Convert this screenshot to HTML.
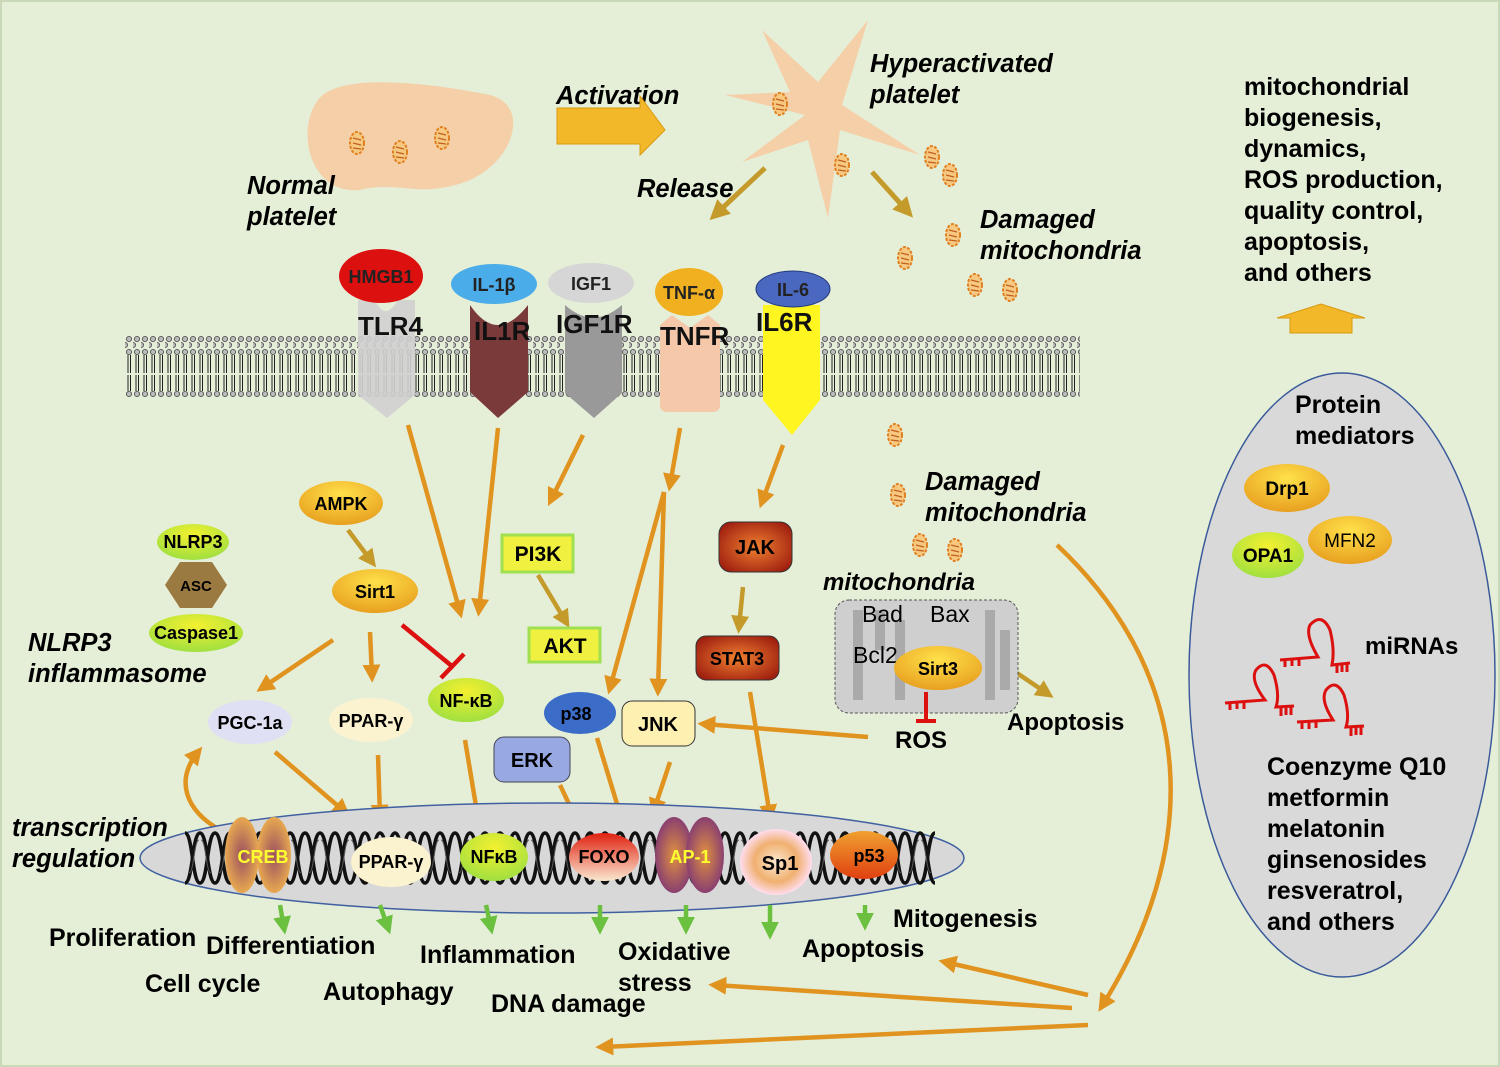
<!DOCTYPE html>
<html><head><meta charset="utf-8"><style>
html,body{margin:0;padding:0;background:#e5efd8;}
svg{display:block;font-family:"Liberation Sans",sans-serif;font-weight:bold;}
.it{font-style:italic;}
</style></head><body>
<svg width="1500" height="1067" viewBox="0 0 1500 1067" xmlns="http://www.w3.org/2000/svg">
<defs>
<marker id="ao" markerWidth="4" markerHeight="4" refX="2.5" refY="2" orient="auto" markerUnits="strokeWidth"><path d="M0,0 L4,2 L0,4 Z" fill="#e0931f"/></marker>
<marker id="av" markerWidth="4" markerHeight="4" refX="2.5" refY="2" orient="auto" markerUnits="strokeWidth"><path d="M0,0 L4,2 L0,4 Z" fill="#c49a2a"/></marker>
<marker id="ag" markerWidth="4" markerHeight="4" refX="2.5" refY="2" orient="auto" markerUnits="strokeWidth"><path d="M0,0 L4,2 L0,4 Z" fill="#6cc040"/></marker>
<pattern id="mem" x="125" y="335" width="8" height="64" patternUnits="userSpaceOnUse">
<circle cx="4" cy="4" r="2.6" fill="#bbb" stroke="#555" stroke-width="0.9"/>
<circle cx="0" cy="10" r="2.6" fill="#bbb" stroke="#555" stroke-width="0.9"/>
<circle cx="4" cy="17" r="2.6" fill="#bbb" stroke="#555" stroke-width="0.9"/>
<line x1="3" y1="20" x2="3" y2="38" stroke="#222" stroke-width="1"/><line x1="5.5" y1="20" x2="5.5" y2="38" stroke="#222" stroke-width="1"/>
<line x1="3" y1="40" x2="3" y2="56" stroke="#222" stroke-width="1"/><line x1="5.5" y1="40" x2="5.5" y2="56" stroke="#222" stroke-width="1"/>
<circle cx="4" cy="59" r="2.6" fill="#bbb" stroke="#555" stroke-width="0.9"/>
</pattern>
<pattern id="dna" x="185" y="828" width="30" height="60" patternUnits="userSpaceOnUse">
<path d="M0,55 C8,55 7,5 15,5 C23,5 22,55 30,55" fill="none" stroke="#111" stroke-width="3.5"/>
<path d="M0,5 C8,5 7,55 15,55 C23,55 22,5 30,5" fill="none" stroke="#111" stroke-width="3.5"/>
<path d="M4,45 C9,45 9,12 14,12 M16,12 C21,12 21,45 26,45" fill="none" stroke="#555" stroke-width="1"/>
</pattern>
<radialGradient id="gy" cx="50%" cy="30%" r="70%"><stop offset="0" stop-color="#ffe14a"/><stop offset="1" stop-color="#e8a020"/></radialGradient>
<radialGradient id="gg" cx="50%" cy="30%" r="70%"><stop offset="0" stop-color="#f4f030"/><stop offset="1" stop-color="#a0e040"/></radialGradient>
<radialGradient id="gr" cx="50%" cy="50%" r="60%"><stop offset="0" stop-color="#f08030"/><stop offset="1" stop-color="#a02010"/></radialGradient>
<radialGradient id="gc" cx="50%" cy="50%" r="50%"><stop offset="0" stop-color="#9a5060"/><stop offset="1" stop-color="#e8a850"/></radialGradient>
<radialGradient id="ga" cx="50%" cy="50%" r="50%"><stop offset="0" stop-color="#e09040"/><stop offset="1" stop-color="#8a4070"/></radialGradient>
<linearGradient id="gf" x1="0" y1="0" x2="0" y2="1"><stop offset="0" stop-color="#e02010"/><stop offset="1" stop-color="#fae8d0"/></linearGradient>
<radialGradient id="gs" cx="50%" cy="50%" r="50%"><stop offset="0" stop-color="#fce8d0"/><stop offset="0.6" stop-color="#f0b070"/><stop offset="1" stop-color="#fde"/></radialGradient>
<linearGradient id="gp" x1="0" y1="0" x2="0" y2="1"><stop offset="0" stop-color="#f0a030"/><stop offset="1" stop-color="#e04010"/></linearGradient>
<g id="mito"><ellipse cx="0" cy="0" rx="7" ry="11" fill="#f6c880" stroke="#e08020" stroke-width="2" stroke-dasharray="3,1.5"/><path d="M-4,-5 L4,-3 M-4,0 L4,2 M-4,5 L4,6" stroke="#c06020" stroke-width="1.2"/></g>
</defs>
<rect x="1" y="1" width="1498" height="1065" fill="#e5efd8" stroke="#c8d8b8" stroke-width="2"/>

<!-- platelets -->
<path d="M318,100 C340,70 440,85 490,95 C530,105 515,160 470,180 C420,200 400,180 360,190 C310,195 295,130 318,100 Z" fill="#f5cfa8"/>
<use href="#mito" x="357" y="143"/><use href="#mito" x="400" y="152"/><use href="#mito" x="442" y="138"/>
<path d="M805,115 L725,95 L790,92 L762,30 L818,82 L868,20 L842,105 L920,155 L840,130 L828,218 L808,140 L742,162 Z" fill="#f5cfa8"/>
<use href="#mito" x="780" y="104"/>
<use href="#mito" x="842" y="165"/><use href="#mito" x="932" y="157"/><use href="#mito" x="950" y="175"/><use href="#mito" x="953" y="235"/><use href="#mito" x="905" y="258"/><use href="#mito" x="975" y="285"/><use href="#mito" x="1010" y="290"/>
<use href="#mito" x="895" y="435"/><use href="#mito" x="898" y="495"/><use href="#mito" x="920" y="545"/><use href="#mito" x="955" y="550"/>
<g font-size="25.5" class="it">
<text x="247" y="194">Normal</text><text x="247" y="225">platelet</text>
<text x="556" y="104">Activation</text>
<text x="870" y="72">Hyperactivated</text><text x="870" y="103">platelet</text>
<text x="637" y="197">Release</text>
<text x="980" y="228">Damaged</text><text x="980" y="259">mitochondria</text>
<text x="925" y="490">Damaged</text><text x="925" y="521">mitochondria</text>
<text x="823" y="590" font-size="24">mitochondria</text>
<text x="28" y="651">NLRP3</text><text x="28" y="682">inflammasome</text>
<text x="12" y="836">transcription</text><text x="12" y="867">regulation</text>
</g>
<path d="M557,108 L640,108 L640,96 L665,130 L640,155 L640,144 L557,144 Z" fill="#f2b82a" stroke="#d89a10"/>
<line x1="765" y1="168" x2="715" y2="215" stroke="#c49a2a" stroke-width="5" marker-end="url(#av)"/>
<line x1="872" y1="172" x2="908" y2="212" stroke="#c49a2a" stroke-width="5" marker-end="url(#av)"/>

<!-- right top text -->
<g font-size="25"><text x="1244" y="95">mitochondrial</text><text x="1244" y="126">biogenesis,</text><text x="1244" y="157">dynamics,</text><text x="1244" y="188">ROS production,</text><text x="1244" y="219">quality control,</text><text x="1244" y="250">apoptosis,</text><text x="1244" y="281">and others</text></g>
<path d="M1290,333 L1290,318 L1277,318 L1321,304 L1365,318 L1352,318 L1352,333 Z" fill="#f2b82a" stroke="#d89a10"/>

<!-- membrane -->
<rect x="125" y="335" width="955" height="64" fill="url(#mem)"/>

<!-- receptors -->
<path d="M358,300 L375,300 Q385,322 398,300 L415,300 L415,395 L387,418 L358,395 Z" fill="#d0d0d0" opacity="0.9"/>
<path d="M470,305 Q497,345 528,305 L528,392 L498,418 L470,392 Z" fill="#7a3a3a"/>
<path d="M565,305 Q593,330 622,305 L622,393 L594,418 L565,393 Z" fill="#999"/>
<path d="M660,325 L672,315 L690,328 L708,315 L720,325 L720,405 Q720,412 712,412 L668,412 Q660,412 660,405 Z" fill="#f4c8a8"/>
<path d="M763,305 L820,305 L820,400 L792,435 L763,400 Z" fill="#fff520"/>
<g font-size="18" text-anchor="middle" fill="#222">
<ellipse cx="381" cy="276" rx="42" ry="27" fill="#dd1010"/><text x="381" y="283">HMGB1</text>
<ellipse cx="494" cy="284" rx="43" ry="20" fill="#4aace8"/><text x="494" y="291">IL-1β</text>
<ellipse cx="591" cy="283" rx="43" ry="20" fill="#d6d6d6"/><text x="591" y="290">IGF1</text>
<ellipse cx="689" cy="292" rx="34" ry="24" fill="#f0b020"/><text x="689" y="299">TNF-α</text>
<ellipse cx="793" cy="289" rx="37" ry="18" fill="#4a68c0" stroke="#223a80"/><text x="793" y="296">IL-6</text>
</g>
<g font-size="26" fill="#111"><text x="358" y="335">TLR4</text><text x="474" y="340">IL1R</text><text x="556" y="333">IGF1R</text><text x="660" y="345">TNFR</text><text x="756" y="331">IL6R</text></g>

<!-- orange arrows -->
<g stroke="#e0931f" stroke-width="4.5" fill="none" marker-end="url(#ao)">
<line x1="408" y1="425" x2="460" y2="612"/>
<line x1="498" y1="428" x2="479" y2="610"/>
<line x1="583" y1="435" x2="551" y2="500"/>
<line x1="680" y1="428" x2="670" y2="485"/>
<line x1="664" y1="492" x2="610" y2="688"/>
<line x1="664" y1="492" x2="658" y2="690"/>
<line x1="783" y1="445" x2="762" y2="502"/>
<line x1="333" y1="640" x2="262" y2="688"/>
<line x1="370" y1="632" x2="372" y2="676"/>
<line x1="750" y1="692" x2="770" y2="816"/>
<line x1="868" y1="737" x2="704" y2="724"/>
<line x1="275" y1="752" x2="345" y2="812"/>
<line x1="378" y1="755" x2="380" y2="816"/>
<line x1="465" y1="740" x2="478" y2="818"/>
<line x1="560" y1="785" x2="580" y2="827"/>
<line x1="597" y1="738" x2="621" y2="817"/>
<line x1="670" y1="762" x2="654" y2="810"/>
<path d="M220,830 C185,810 175,780 198,752"/>
<path d="M1057,545 C1200,680 1200,850 1102,1006"/>
<line x1="1088" y1="995" x2="945" y2="962"/>
<line x1="1072" y1="1008" x2="715" y2="985"/>
<line x1="1088" y1="1025" x2="602" y2="1047"/>
</g>
<g stroke="#c49a2a" stroke-width="4.5" fill="none" marker-end="url(#av)">
<line x1="538" y1="575" x2="566" y2="622"/>
<line x1="348" y1="530" x2="372" y2="562"/>
<line x1="743" y1="587" x2="739" y2="627"/>
<line x1="968" y1="640" x2="1048" y2="694"/>
</g>
<line x1="402" y1="625" x2="453" y2="667" stroke="#dd1010" stroke-width="4.5"/>
<line x1="441" y1="678" x2="464" y2="654" stroke="#dd1010" stroke-width="4.5"/>

<!-- left nodes -->
<g font-size="18" text-anchor="middle">
<ellipse cx="341" cy="503" rx="42" ry="22" fill="url(#gy)"/><text x="341" y="510">AMPK</text>
<ellipse cx="375" cy="591" rx="43" ry="22" fill="url(#gy)"/><text x="375" y="598">Sirt1</text>
<polygon points="165,585 180,562 212,562 227,585 212,608 180,608" fill="#9a7a40"/><text x="196" y="591" font-size="15">ASC</text>
<ellipse cx="193" cy="542" rx="36" ry="18" fill="url(#gg)"/><text x="193" y="548">NLRP3</text>
<ellipse cx="196" cy="633" rx="47" ry="19" fill="url(#gg)"/><text x="196" y="639">Caspase1</text>
<ellipse cx="250" cy="722" rx="42" ry="22" fill="#e0e0f4"/><text x="250" y="729">PGC-1a</text>
<ellipse cx="371" cy="720" rx="42" ry="22" fill="#fbf2d0"/><text x="371" y="727">PPAR-γ</text>
<ellipse cx="466" cy="700" rx="38" ry="22" fill="url(#gg)"/><text x="466" y="707">NF-κB</text>
<rect x="502" y="535" width="71" height="37" fill="#f0f040" stroke="#a0e050" stroke-width="3"/><text x="538" y="561" font-size="21">PI3K</text>
<rect x="529" y="628" width="71" height="34" fill="#f0f040" stroke="#a0e050" stroke-width="3"/><text x="565" y="653" font-size="21">AKT</text>
<rect x="494" y="737" width="76" height="45" rx="10" fill="#98a8e0" stroke="#445"/><text x="532" y="767" font-size="20">ERK</text>
<ellipse cx="580" cy="713" rx="36" ry="21" fill="#3a6cc8"/><text x="576" y="720">p38</text>
<rect x="622" y="701" width="73" height="45" rx="10" fill="#fdf0b0" stroke="#333"/><text x="658" y="731" font-size="20">JNK</text>
<rect x="719" y="522" width="73" height="50" rx="12" fill="url(#gr)" stroke="#333"/><text x="755" y="554" font-size="20">JAK</text>
<rect x="696" y="636" width="83" height="44" rx="10" fill="url(#gr)" stroke="#333"/><text x="737" y="665">STAT3</text>
</g>

<!-- mitochondria box -->
<rect x="835" y="600" width="183" height="113" rx="14" fill="#cfcfcf" stroke="#555" stroke-dasharray="3,2"/>
<g fill="none" stroke="#aaa" stroke-width="10"><path d="M858,610 L858,700 M880,610 L880,650 M900,620 L900,700 M990,610 L990,700 M1005,630 L1005,690"/></g>
<g font-weight="normal" font-size="23"><text x="862" y="622">Bad</text><text x="930" y="622">Bax</text><text x="853" y="663">Bcl2</text></g>
<ellipse cx="938" cy="668" rx="44" ry="22" fill="url(#gy)"/><text x="938" y="675" font-size="18" text-anchor="middle">Sirt3</text>
<line x1="926" y1="692" x2="926" y2="720" stroke="#dd1010" stroke-width="4"/><line x1="916" y1="721" x2="936" y2="721" stroke="#dd1010" stroke-width="4"/>
<text x="895" y="748" font-size="24">ROS</text>
<text x="1007" y="730" font-size="24">Apoptosis</text>

<!-- nucleus -->
<ellipse cx="552" cy="858" rx="412" ry="55" fill="#d8d8d8" stroke="#4060a0" stroke-width="1.5"/>
<rect x="185" y="830" width="750" height="56" fill="url(#dna)"/>
<g font-size="18" text-anchor="middle">
<ellipse cx="242" cy="855" rx="17" ry="38" fill="url(#gc)"/><ellipse cx="274" cy="855" rx="17" ry="38" fill="url(#gc)"/>
<text x="263" y="863" fill="#ffff30">CREB</text>
<ellipse cx="391" cy="862" rx="40" ry="25" fill="#fbf2d0"/><text x="391" y="868">PPAR-γ</text>
<ellipse cx="494" cy="857" rx="34" ry="24" fill="url(#gg)"/><text x="494" y="863">NFκB</text>
<ellipse cx="604" cy="857" rx="35" ry="24" fill="url(#gf)"/><text x="604" y="863">FOXO</text>
<ellipse cx="674" cy="855" rx="19" ry="38" fill="url(#ga)"/><ellipse cx="705" cy="855" rx="19" ry="38" fill="url(#ga)"/>
<text x="690" y="863" fill="#ffff30">AP-1</text>
<ellipse cx="776" cy="862" rx="36" ry="33" fill="url(#gs)"/><text x="780" y="870" font-size="20">Sp1</text>
<ellipse cx="864" cy="855" rx="34" ry="24" fill="url(#gp)"/><text x="869" y="862">p53</text>
</g>

<!-- green arrows -->
<g stroke="#6cc040" stroke-width="4.5" marker-end="url(#ag)">
<line x1="280" y1="905" x2="284" y2="928"/><line x1="380" y1="905" x2="388" y2="928"/><line x1="486" y1="905" x2="491" y2="928"/><line x1="600" y1="905" x2="600" y2="928"/><line x1="686" y1="905" x2="686" y2="928"/><line x1="770" y1="905" x2="770" y2="933"/><line x1="865" y1="905" x2="865" y2="924"/>
</g>
<g font-size="25"><text x="49" y="946">Proliferation</text><text x="206" y="954">Differentiation</text><text x="145" y="992">Cell cycle</text><text x="323" y="1000">Autophagy</text><text x="420" y="963">Inflammation</text><text x="491" y="1012">DNA damage</text><text x="618" y="960">Oxidative</text><text x="618" y="991">stress</text><text x="893" y="927">Mitogenesis</text><text x="802" y="957">Apoptosis</text></g>

<!-- right panel -->
<ellipse cx="1342" cy="675" rx="153" ry="302" fill="#d9d9d9" stroke="#3a5a9a" stroke-width="1.5"/>
<text x="1295" y="413" font-size="25">Protein</text><text x="1295" y="444" font-size="25">mediators</text>
<ellipse cx="1287" cy="488" rx="43" ry="24" fill="url(#gy)"/><text x="1287" y="495" font-size="19" text-anchor="middle">Drp1</text>
<ellipse cx="1350" cy="540" rx="42" ry="24" fill="url(#gy)"/><text x="1350" y="547" font-size="19" text-anchor="middle" font-weight="normal">MFN2</text>
<ellipse cx="1268" cy="555" rx="36" ry="23" fill="url(#gg)"/><text x="1268" y="562" font-size="19" text-anchor="middle">OPA1</text>
<g fill="none" stroke="#dd1010" stroke-width="3">
<path d="M1280,660 L1318,657 Q1305,635 1310,625 Q1322,612 1330,630 Q1335,650 1332,665 L1350,663"/>
<path d="M1285,660 v7 M1292,659 v7 M1299,659 v7 M1337,665 v8 M1342,664 v8 M1347,664 v8"/>
<path d="M1225,703 L1265,700 Q1250,680 1256,670 Q1266,658 1274,675 Q1280,695 1276,707 L1294,706"/>
<path d="M1230,703 v7 M1237,702 v7 M1244,702 v7 M1281,708 v8 M1286,707 v8 M1291,707 v8"/>
<path d="M1297,722 L1333,720 Q1320,700 1326,690 Q1336,678 1344,695 Q1350,715 1346,727 L1364,726"/>
<path d="M1302,722 v7 M1309,722 v7 M1316,721 v7 M1351,728 v8 M1356,727 v8 M1361,727 v8"/>
</g>
<text x="1365" y="654" font-size="24">miRNAs</text>
<g font-size="25"><text x="1267" y="775">Coenzyme Q10</text><text x="1267" y="806">metformin</text><text x="1267" y="837">melatonin</text><text x="1267" y="868">ginsenosides</text><text x="1267" y="899">resveratrol,</text><text x="1267" y="930">and others</text></g>
</svg>
</body></html>
